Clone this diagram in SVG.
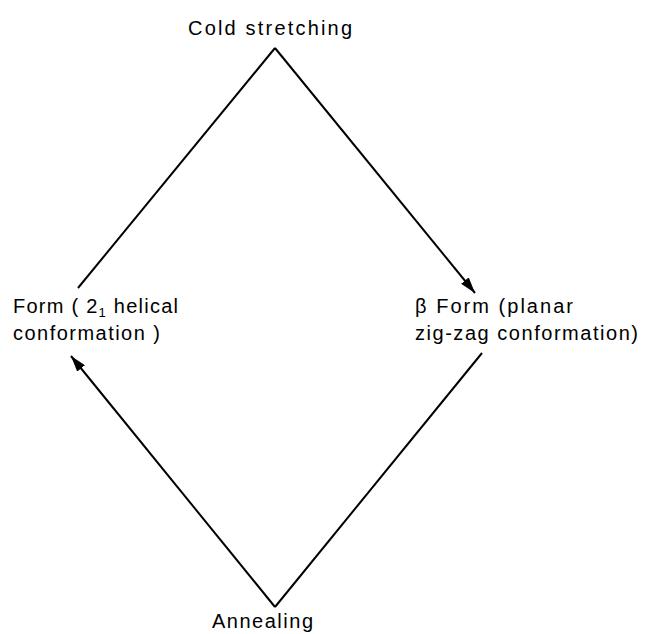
<svg xmlns="http://www.w3.org/2000/svg" width="649" height="634" viewBox="0 0 649 634">
<style>
text{font-family:"Liberation Sans","DejaVu Sans",sans-serif;font-size:20px;fill:#000}
.ln{stroke:#000;stroke-width:2;fill:none}
.sub{font-size:13px}
</style>
<defs>
<marker id="ah" viewBox="0 0 16 10" refX="16" refY="5" markerWidth="16" markerHeight="10" markerUnits="userSpaceOnUse" orient="auto">
<path d="M0,0 L16,5 L0,10 Z" fill="#000"/>
</marker>
</defs>
<rect width="649" height="634" fill="#fff"/>
<g id="connectors">
<line class="ln" x1="78" y1="288" x2="275" y2="48"/>
<line class="ln" x1="275" y1="48" x2="475" y2="293" marker-end="url(#ah)"/>
<line class="ln" x1="482" y1="353" x2="275" y2="607"/>
<line class="ln" x1="275" y1="607" x2="71" y2="356" marker-end="url(#ah)"/>
</g>
<g id="cold">
<text x="188" y="35" textLength="164" lengthAdjust="spacing">Cold stretching</text>
</g>
<g id="alpha">
<text x="13" y="313" textLength="165" lengthAdjust="spacing">Form ( 2<tspan class="sub" dy="4">1</tspan><tspan dy="-4"> helical</tspan></text>
<text x="13" y="340" textLength="147" lengthAdjust="spacing">conformation )</text>
</g>
<g id="beta">
<text x="415" y="313" textLength="158" lengthAdjust="spacing">β Form (planar</text>
<text x="415" y="340" textLength="223" lengthAdjust="spacing">zig-zag conformation)</text>
</g>
<g id="annealing">
<text x="212" y="628" textLength="101" lengthAdjust="spacing">Annealing</text>
</g>
</svg>
